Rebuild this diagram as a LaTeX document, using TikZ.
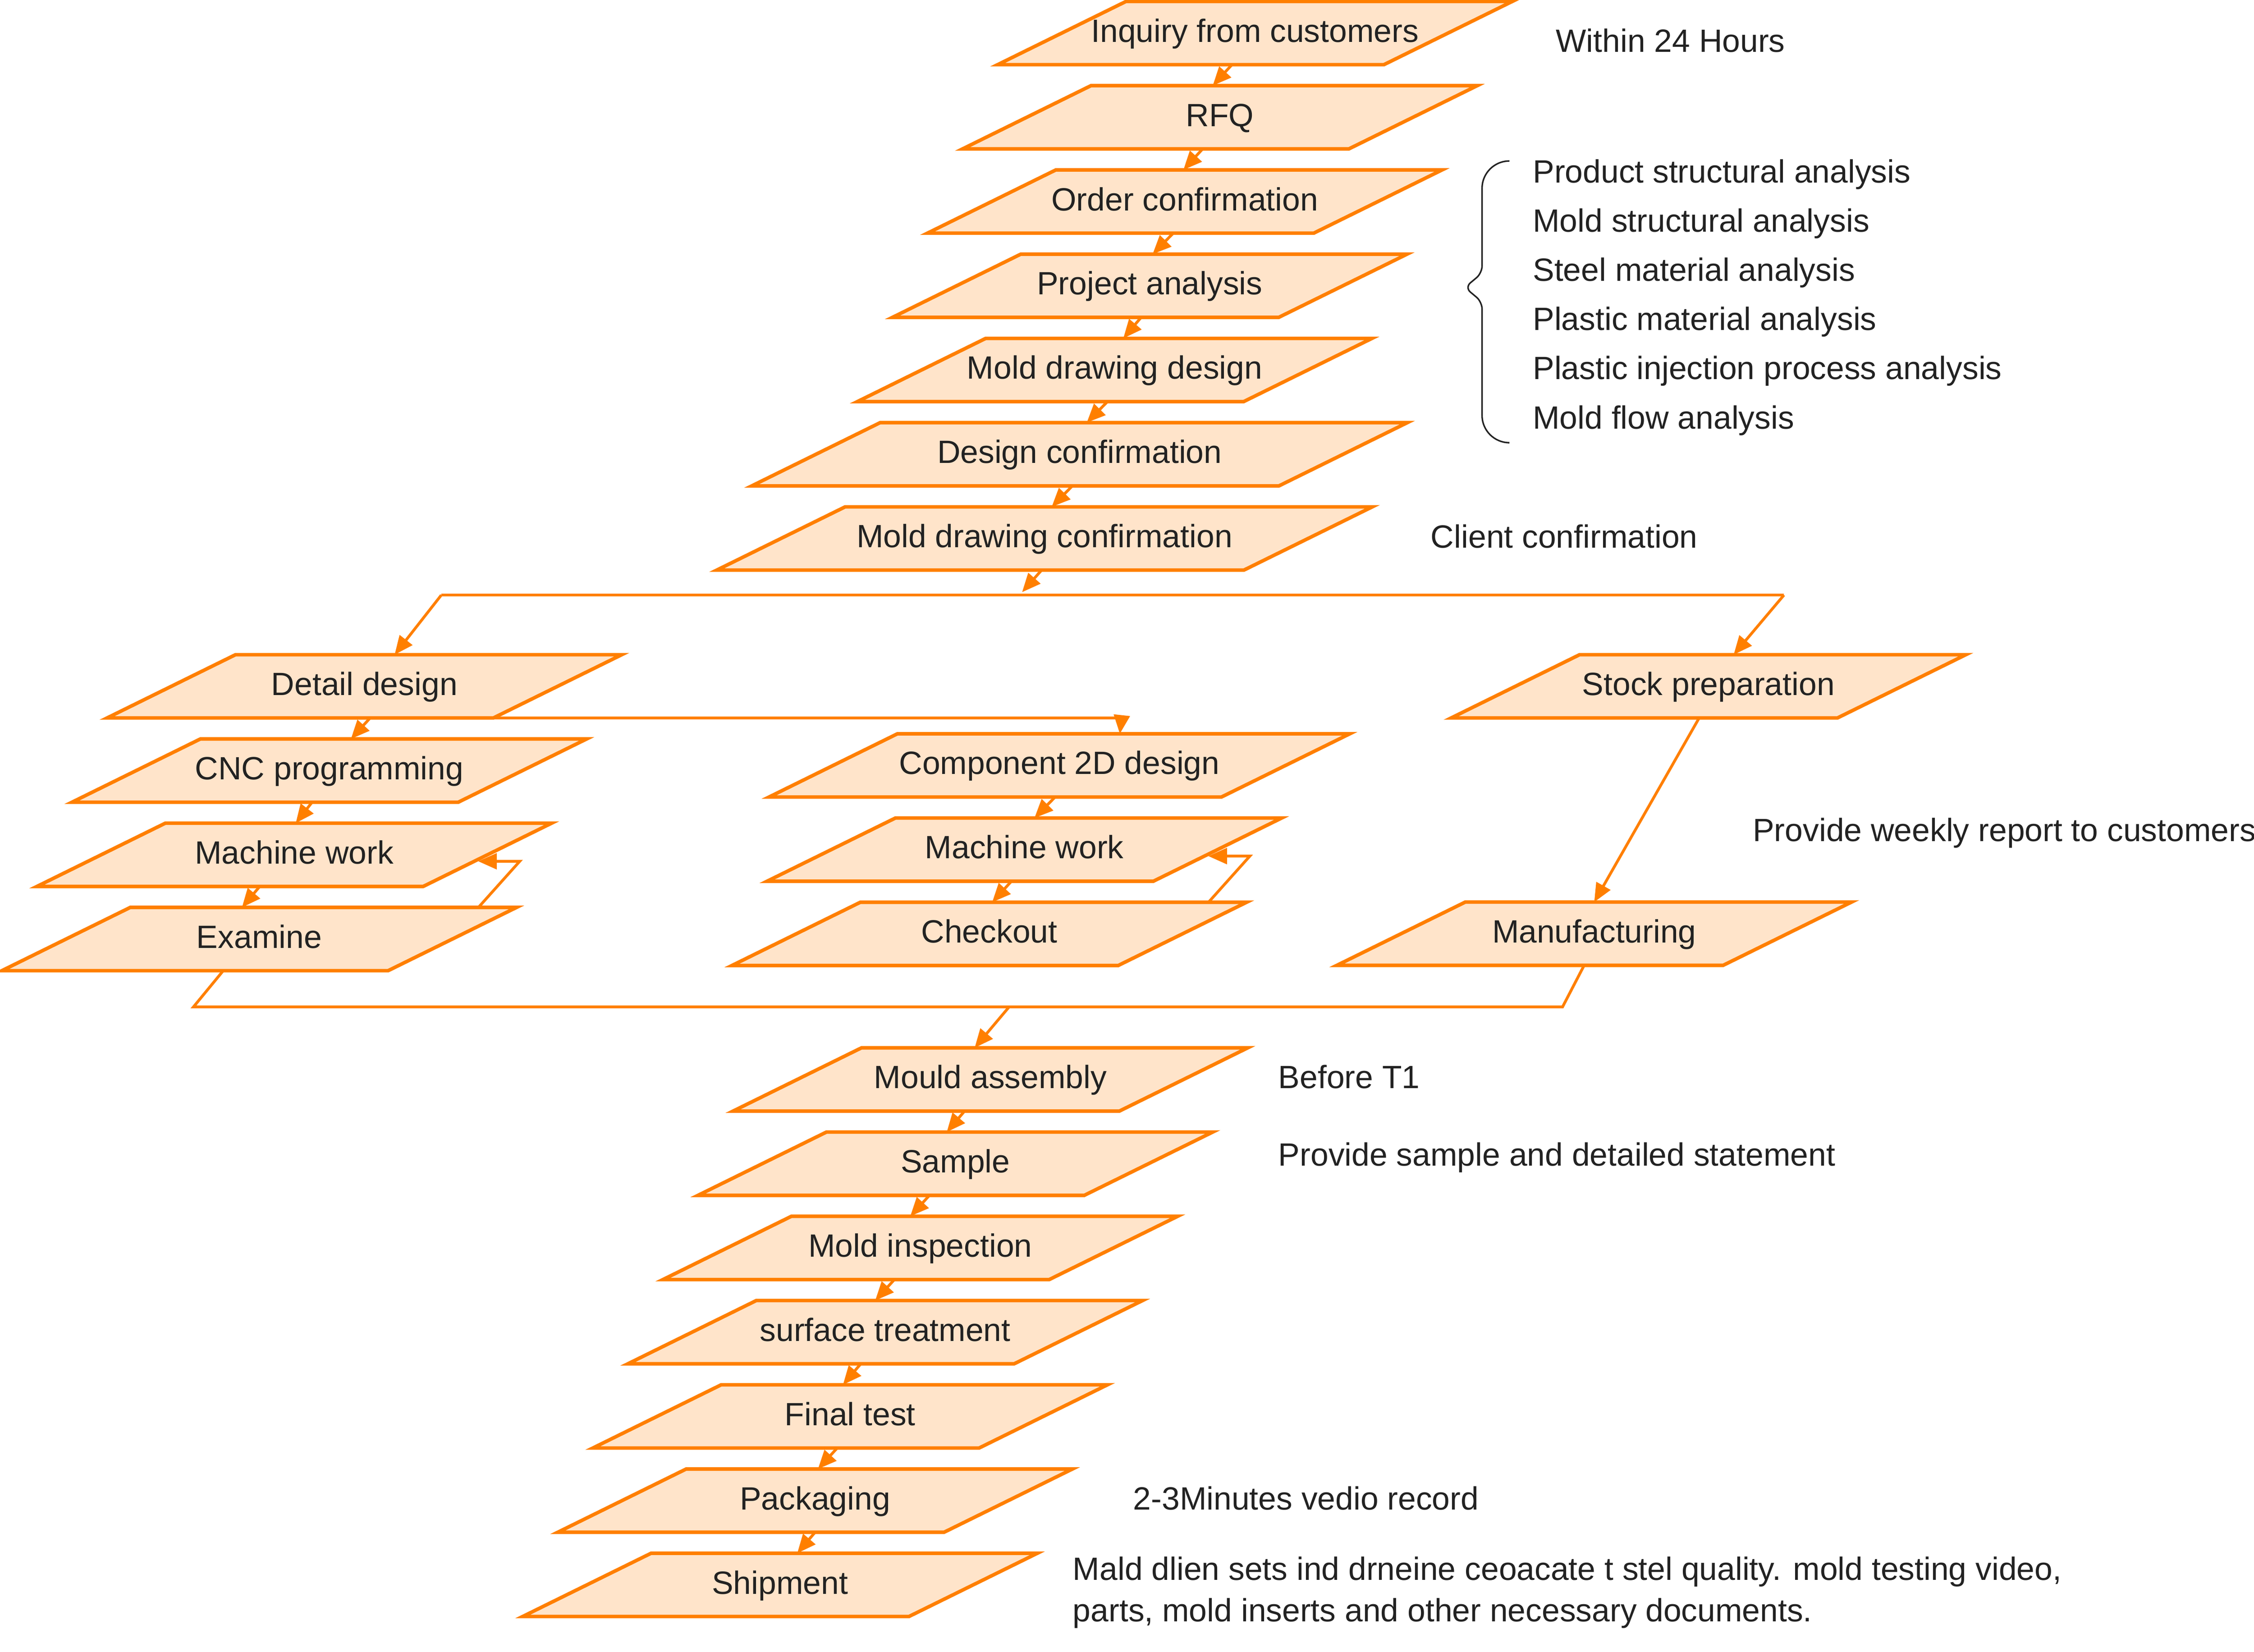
\documentclass[tikz,border=0pt]{standalone}
\usepackage{fontspec}
\setmainfont{Liberation Sans}
\usetikzlibrary{shapes.geometric,positioning,calc,arrows.meta}
\definecolor{flowline}{HTML}{FF7F00}
\definecolor{flowfill}{HTML}{FFE4CA}
\definecolor{ink}{HTML}{222222}
\tikzset{>={Triangle[length=2.6mm,width=2.2mm]}}
\tikzset{
  stepbox/.style={trapezium, trapezium left angle=23.2, trapezium right angle=156.8,
    trapezium stretches body, draw=flowline, fill=flowfill, line width=1.4pt,
    minimum width=71.6mm, minimum height=8.8mm, inner xsep=0pt, inner ysep=4.94pt,
    outer sep=0pt, text=ink, text height=0.95em, text depth=0.24em,
    font=\fontsize{12.75}{15}\selectfont,
    execute at begin node={\hbox to 0pt\bgroup\hss},
    execute at end node={\hss\egroup}},
  widebox/.style={stepbox, minimum width=91.2mm},
  flow/.style={draw=flowline, line width=1.1pt},
  note/.style={text=ink, font=\fontsize{12.75}{15}\selectfont, anchor=west,
    inner sep=0pt, text height=0.95em, text depth=0.24em},
  brace/.style={draw=ink, line width=0.6pt},
}
\begin{document}
\begin{tikzpicture}[x=0.2mm, y=-0.2mm, node distance=2.92mm]
  \useasboundingbox (0,0) rectangle (1568,1149.3);

  % Nodes
  \node[stepbox] (inq) at (873,23) {Inquiry from customers};
  \node[stepbox, below=of inq, xshift=-4.88mm] (rfq) {RFQ};
  \node[stepbox, below=of rfq, xshift=-4.88mm] (ordc) {Order confirmation};
  \node[stepbox, below=of ordc, xshift=-4.88mm] (proj) {Project analysis};
  \node[stepbox, below=of proj, xshift=-4.88mm] (mdd) {Mold drawing design};
  \node[widebox, below=of mdd, xshift=-4.88mm] (dconf) {Design confirmation};
  \node[widebox, below=of dconf, xshift=-4.88mm] (mdc) {Mold drawing confirmation};

  \node[stepbox] (det) at (253.5,477.5) {Detail design};
  \node[stepbox, below=of det, xshift=-4.88mm] (cnc) {CNC programming};
  \node[stepbox, below=of cnc, xshift=-4.88mm] (mwa) {Machine work};
  \node[stepbox, below=of mwa, xshift=-4.88mm] (exa) {Examine};

  \node[stepbox, minimum width=80.8mm] (comp) at (737,532.5) {Component 2D design};
  \node[stepbox, below=of comp, xshift=-4.88mm] (mwb) {Machine work};
  \node[stepbox, below=of mwb, xshift=-4.88mm] (chk) {Checkout};

  \node[stepbox] (stock) at (1188.5,477.5) {Stock preparation};
  \node[stepbox] (manu) at (1109,649.6) {Manufacturing};

  \node[stepbox] (mas) at (689,751) {Mould assembly};
  \node[stepbox, below=of mas, xshift=-4.88mm] (smp) {Sample};
  \node[stepbox, below=of smp, xshift=-4.88mm] (mins) {Mold inspection};
  \node[stepbox, below=of mins, xshift=-4.88mm] (surf) {surface treatment};
  \node[stepbox, below=of surf, xshift=-4.88mm] (fin) {Final test};
  \node[stepbox, below=of fin, xshift=-4.88mm] (pack) {Packaging};
  \node[stepbox, below=of pack, xshift=-4.88mm] (ship) {Shipment};

  % Notes
  \node[note] (h24) at (1082,30) {Within 24 Hours};
  \foreach \txt [count=\i from 0] in {Product structural analysis, Mold structural analysis,
      Steel material analysis, Plastic material analysis,
      Plastic injection process analysis, Mold flow analysis}
    \node[note] (ana\i) at (1066,121+34.2*\i) {\txt};
  \node[note] (cli) at (995,375) {Client confirmation};
  \node[note] (week) at (1219,579) {Provide weekly report to customers};
  \node[note] (t1) at (889,751) {Before T1};
  \node[note] (stat) at (889,805) {Provide sample and detailed statement};
  \node[note] (vid) at (788,1044) {2-3Minutes vedio record};
  \node[note] (docsa) at (746,1093) {Mald dlien sets ind drneine ceoacate t stel quality. mold testing video,};
  \node[note] (docsb) at (746,1122) {parts, mold inserts and other necessary documents.};

  \draw[brace] (1050,112) [rounded corners=3.8mm] -- (1031,112) [rounded corners=1mm]
    -- (1031,190) -- (1019,200) -- (1031,210) [rounded corners=3.8mm] -- (1031,308) -- (1050,308);

  % Edges
  \foreach \a/\b/\p/\q in {inq/rfq/-16/-5, rfq/ordc/-12/-1, ordc/proj/-8/2, proj/mdd/-6/6,
      mdd/dconf/-5/5, dconf/mdc/-5/5, det/cnc/4/15, cnc/mwa/-12/1, mwa/exa/-24/-12,
      comp/mwb/-3/7, mwb/chk/-9/2, mas/smp/-18/-6, smp/mins/-18/-7, mins/surf/-18/-7,
      surf/fin/-17/-5, fin/pack/-9/2, pack/ship/0/12}
    \draw[flow, ->] ($(\a.south)+(\p,0)$) -- ($(\b.north)+(\q,0)$);

  \coordinate (forkl) at (307,414);
  \coordinate (forkr) at (1241,414);
  \coordinate (forkin) at (711,412);
  \draw[flow] (forkl) -- (forkr);
  \draw[flow, ->] ($(mdc.south)+(-2,0)$) -- (forkin);
  \draw[flow, ->] (forkl) -- ($(det.north)+(21,0)$);
  \draw[flow, ->] (forkr) -- ($(stock.north)+(17.5,0)$);
  \draw[flow, ->] (det.bottom right corner) -- ++(437,0) -- ($(comp.north)+(42,0)$);
  \draw[flow, ->] ($(stock.south)+(-6.5,0)$) -- (manu.north);

  \foreach \a/\b in {exa/mwa, chk/mwb}
    \draw[flow, ->] ($(\a.north)+(152.5,0)$) -- ($(\b.right side)+(22.5,4.5)$)
      -- ($(\b.right side)+(-6.4,4.5)$);

  \coordinate (joinl) at (134.6,700.5);
  \coordinate (joinr) at (1087,700.5);
  \coordinate (joinm) at (702,700.5);
  \draw[flow] ($(exa.south)+(-25,0)$) -- (joinl) -- (joinr) -- ($(manu.south)+(-7,0)$);
  \draw[flow, ->] (joinm) -- ($(mas.north)+(-11,0)$);

\end{tikzpicture}
\end{document}
